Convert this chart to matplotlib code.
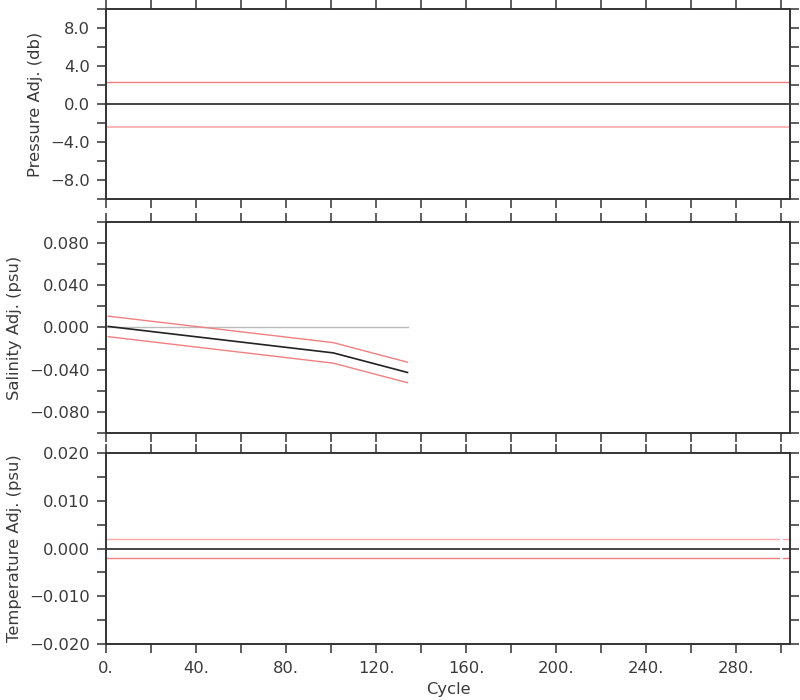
import numpy as np
import matplotlib
matplotlib.use("Agg")
import matplotlib.pyplot as plt
from matplotlib.ticker import MultipleLocator, FuncFormatter

# ---- data ----
pres_cycle = [0, 303]
pres_adj = [0.0, 0.0]
pres_err = [2.4, 2.4]

sal_cycle = [1, 101, 134]
sal_adj = [0.001, -0.024, -0.0425]
sal_err = [0.0097, 0.0097, 0.0097]
sal_zero_cycle = [0, 134]
sal_zero = [0.0, 0.0]

temp_cycle_a = [0, 299]
temp_cycle_b = [301, 303]
temp_adj = [0.0, 0.0]
temp_err = [0.002, 0.002]

xticks_major = 40
xticks_minor = 20

ylabels = ["Pressure Adj. (db)", "Salinity Adj. (psu)", "Temperature Adj. (psu)"]
ylims = [(-10, 10), (-0.1, 0.1), (-0.02, 0.02)]
ymajor = [4.0, 0.04, 0.01]
yminor = [2.0, 0.02, 0.005]
yfmt = ["{:.1f}", "{:.3f}", "{:.3f}"]

# ---- style ----
axcol = "#333333"
txtcol = "#3a3a3a"
red_hi = "#f08080"
red_lo = "#ffa8a8"
fs = 11.8
plt.rcParams["font.family"] = "DejaVu Sans"
plt.rcParams["font.size"] = fs

fig = plt.figure(figsize=(8, 7), dpi=100)
rects = [
    [0.1325, 0.7153, 0.855, 0.2714],
    [0.1325, 0.3810, 0.855, 0.3023],
    [0.1325, 0.0804, 0.855, 0.2720],
]
axes = [fig.add_axes(r) for r in rects]


def minus_fmt(fmt):
    return FuncFormatter(lambda v, p: fmt.format(v).replace("-", "\u2212")
                         if abs(v) > 1e-12 else fmt.format(0.0))


for i, ax in enumerate(axes):
    ax.set_xlim(0, 304)
    ax.set_ylim(*ylims[i])
    ax.xaxis.set_major_locator(MultipleLocator(xticks_major))
    ax.xaxis.set_minor_locator(MultipleLocator(xticks_minor))
    ax.yaxis.set_major_locator(MultipleLocator(ymajor[i]))
    ax.yaxis.set_minor_locator(MultipleLocator(yminor[i]))
    ax.yaxis.set_major_formatter(minus_fmt(yfmt[i]))
    ax.xaxis.set_major_formatter(FuncFormatter(lambda v, p: "{:d}.".format(int(round(v)))))
    ax.tick_params(which="both", direction="out", length=6.5, width=1.1,
                   color=axcol, labelcolor=txtcol, top=True, right=True,
                   labelsize=fs)
    ax.tick_params(axis="y", which="both", labelright=False, pad=5)
    ax.tick_params(axis="x", which="both", labeltop=False,
                   labelbottom=(i == 2), pad=6)
    for s in ax.spines.values():
        s.set_color(axcol)
        s.set_linewidth(1.4)
    ax.set_ylabel(ylabels[i], color=txtcol, fontsize=fs, labelpad=5)

# pressure
ax = axes[0]
p = np.array(pres_adj)
pe = np.array(pres_err)
ax.plot(pres_cycle, p + pe, color=red_hi, lw=1.0)
ax.plot(pres_cycle, p - pe, color=red_lo, lw=1.2)
ax.plot(pres_cycle, p, color="#222222", lw=1.2)

# salinity
ax = axes[1]
s = np.array(sal_adj)
se = np.array(sal_err)
ax.plot(sal_zero_cycle, sal_zero, color="#bbbbbb", lw=1.0)
ax.plot(sal_cycle, s + se, color=red_hi, lw=1.0)
ax.plot(sal_cycle, s - se, color=red_hi, lw=1.0)
ax.plot(sal_cycle, s, color="#222222", lw=1.2)

# temperature
ax = axes[2]
t = np.array(temp_adj)
te = np.array(temp_err)
for c in (temp_cycle_a, temp_cycle_b):
    ax.plot(c, t + te, color=red_lo, lw=1.0)
    ax.plot(c, t - te, color=red_hi, lw=1.0)
    ax.plot(c, t, color="#444444", lw=1.4)
ax.set_xlabel("Cycle", color=txtcol, fontsize=fs, labelpad=4)

fig.savefig("out.png", dpi=100)
